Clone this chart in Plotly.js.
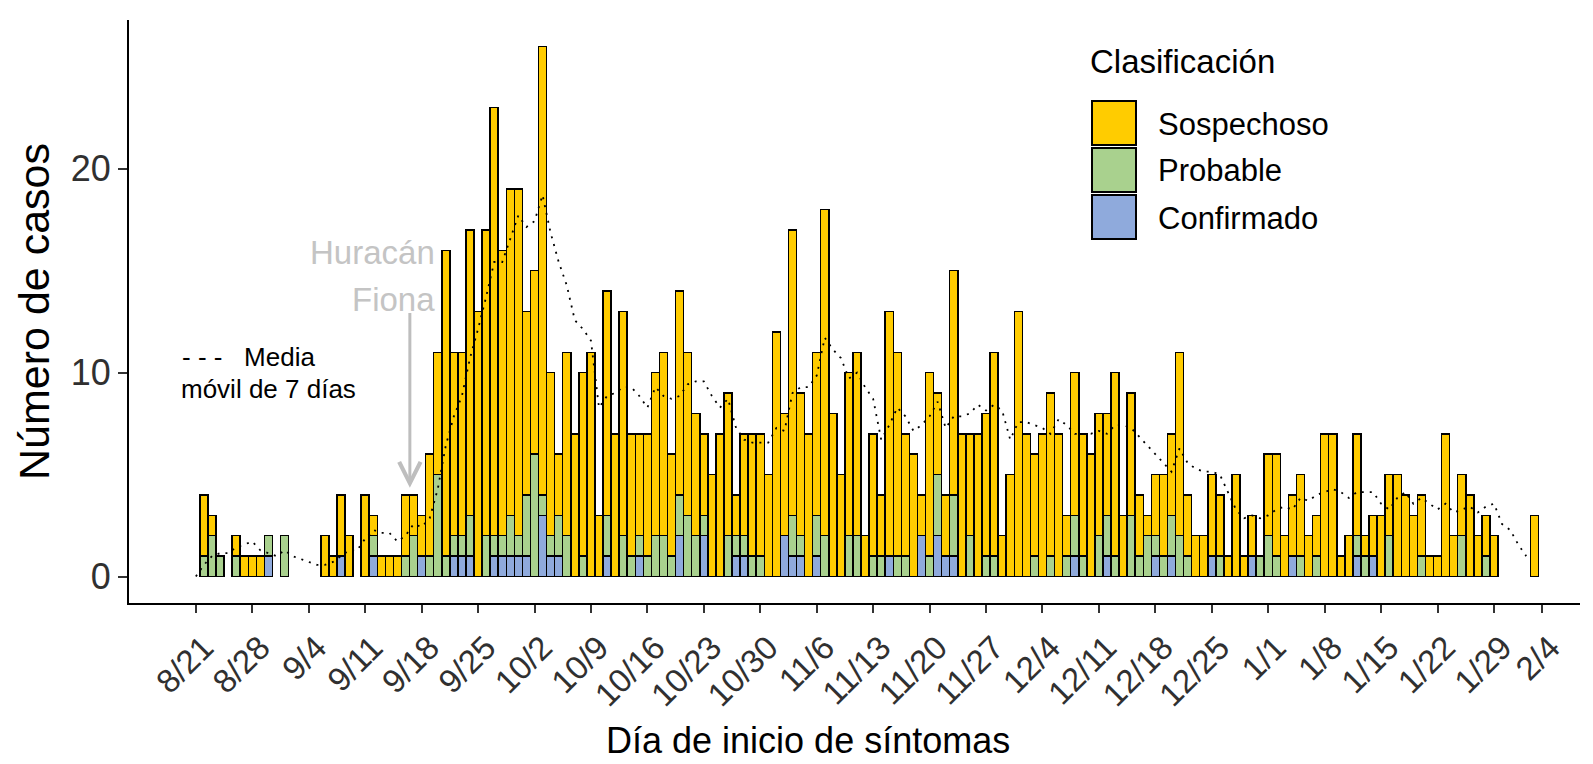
<!DOCTYPE html>
<html><head><meta charset="utf-8">
<script src="https://cdn.plot.ly/plotly-3.0.1.min.js"></script>
<style>html,body{margin:0;padding:0;background:#fff}#chart{width:1593px;height:764px}</style>
</head><body><div id="chart"></div>
<script>
// Daily counts starting 2022-08-21 (index 0) through 2023-02-03 (index 166)
const fechaInicio = [2022, 7, 21];
const sospechoso = [
 0,3,1,0,0,1,1,1,1,0, 0,0,0,0,0,0,2,1,3,2, 0,4,1,1,1,1,3,2,2,5,
 6,15,9,9,14,13,15,21,14,16, 17,9,9,22,8,3,9,7,9,11, 3,11,7,11,6,5,6,8,9,5,
 10,8,6,4,5,7,7,2,5,6, 6,5,12,6,14,7,7,8,16,8, 5,8,9,2,6,3,12,10,6,6,
 2,9,4,3,11,7,5,7,7,10, 2,5,13,7,5,7,8,7,2,7, 6,6,6,5,9,3,6,3,1,3,
 4,4,9,3,2,2,4,3,1,5, 1,2,0,4,5,2,3,4,2,2, 7,7,1,2,5,1,2,3,3,5,
 4,3,3,1,1,7,2,3,4,2, 2,2,0,0,0,0,3];
const probable = [
 0,1,2,1,0,1,0,0,0,1, 0,2,0,0,0,0,0,0,0,0, 0,0,1,0,0,0,1,2,0,1,
 5,1,1,1,2,0,2,1,1,2, 1,3,6,1,1,2,2,0,1,0, 0,2,0,2,1,1,1,2,2,1,
 2,3,2,1,0,0,2,1,1,1, 1,0,0,0,2,1,0,2,2,0, 0,2,2,0,1,1,0,1,1,0,
 0,1,3,0,3,0,2,0,1,1, 0,0,0,0,1,0,1,0,1,2, 1,0,2,2,1,0,3,1,2,1,
 1,2,2,1,0,0,0,1,0,0, 0,0,1,2,1,0,0,1,0,1, 0,0,0,0,1,1,0,0,2,0,
 0,0,1,0,0,0,0,2,0,0, 1,0,0,0,0,0,0];
const confirmado = [
 0,0,0,0,0,0,0,0,0,1, 0,0,0,0,0,0,0,0,1,0, 0,0,1,0,0,0,0,0,1,0,
 0,0,1,1,1,0,0,1,1,1, 1,1,0,3,1,1,0,0,0,0, 0,1,0,0,0,1,0,0,0,0,
 2,0,0,2,0,0,0,1,1,0, 0,0,0,2,1,1,0,1,0,0, 0,0,0,0,0,0,1,0,0,0,
 2,0,2,1,1,0,0,0,0,0, 0,0,0,0,0,0,0,0,0,1, 0,0,0,1,0,0,0,0,0,1,
 0,1,0,0,0,0,1,0,0,0, 0,1,0,0,0,0,1,0,0,0, 0,0,0,0,1,0,1,0,0,0,
 0,0,0,0,0,0,0,0,0,0, 0,0,0,0,0,0,0];
const tickFechas = ['2022-08-21','2022-08-28','2022-09-04','2022-09-11','2022-09-18','2022-09-25',
 '2022-10-02','2022-10-09','2022-10-16','2022-10-23','2022-10-30','2022-11-06','2022-11-13',
 '2022-11-20','2022-11-27','2022-12-04','2022-12-11','2022-12-18','2022-12-25','2023-01-01',
 '2023-01-08','2023-01-15','2023-01-22','2023-01-29','2023-02-04'];
const tickEtiquetas = ['8/21','8/28','9/4','9/11','9/18','9/25','10/2','10/9','10/16','10/23',
 '10/30','11/6','11/13','11/20','11/27','12/4','12/11','12/18','12/25','1/1','1/8','1/15',
 '1/22','1/29','2/4'];
const categorias = ['Sospechoso','Probable','Confirmado'];
const colores = ['#FFCC00','#A9D18E','#8FAADC'];
const mediaVentana = 7;
const mediaUltimoDia = 165;

const fechas = sospechoso.map((_, i) =>
  new Date(Date.UTC(fechaInicio[0], fechaInicio[1], fechaInicio[2] + i)).toISOString().slice(0, 10));
const nz = a => a.map(v => v === 0 ? null : v);
const total = sospechoso.map((v, i) => v + probable[i] + confirmado[i]);
const mediaX = [], mediaY = [];
for (let i = 0; i <= mediaUltimoDia; i++) {
  let s = 0;
  for (let k = i - mediaVentana + 1; k <= i; k++) if (k >= 0) s += total[k];
  mediaX.push(fechas[i]); mediaY.push(s / mediaVentana);
}

const FONT = 'Liberation Sans, Arial, sans-serif';
const L = 129, R = 1580, T = 20, B = 603;
const px = x => (x - L) / (R - L);
const py = y => (B - y) / (B - T);

const barLine = {color: '#000', width: 1.5};
const traces = [
  {type: 'bar', name: 'Confirmado', x: fechas, y: nz(confirmado), marker: {color: colores[2], line: barLine}, showlegend: false, hoverinfo: 'skip'},
  {type: 'bar', name: 'Probable', x: fechas, y: nz(probable), marker: {color: colores[1], line: barLine}, showlegend: false, hoverinfo: 'skip'},
  {type: 'bar', name: 'Sospechoso', x: fechas, y: nz(sospechoso), marker: {color: colores[0], line: barLine}, showlegend: false, hoverinfo: 'skip'},
  {type: 'scatter', mode: 'lines', name: 'Media móvil', x: mediaX, y: mediaY,
   line: {color: '#000', width: 1.8, dash: '2px,6px'}, showlegend: false, hoverinfo: 'skip'}
];

const shapes = [], annotations = [];
// custom legend
const legTops = [101, 148, 195];
categorias.forEach((c, i) => {
  shapes.push({type: 'rect', xref: 'paper', yref: 'paper', x0: px(1092), x1: px(1136),
    y0: py(legTops[i]), y1: py(legTops[i] + 44), fillcolor: colores[i], line: {color: '#000', width: 2}});
  annotations.push({xref: 'paper', yref: 'paper', x: px(1156), y: py(legTops[i] + 23), xanchor: 'left', yanchor: 'middle',
    text: c, showarrow: false, font: {family: FONT, size: 31, color: '#000'}});
});
annotations.push({xref: 'paper', yref: 'paper', x: px(1088), y: py(61), xanchor: 'left', yanchor: 'middle',
  text: 'Clasificación', showarrow: false, font: {family: FONT, size: 33, color: '#000'}});
// moving average note
annotations.push({xref: 'paper', yref: 'paper', x: px(180), y: py(357), xanchor: 'left', yanchor: 'middle',
  text: '- - -   Media', showarrow: false, font: {family: FONT, size: 26, color: '#000'}});
annotations.push({xref: 'paper', yref: 'paper', x: px(179), y: py(389), xanchor: 'left', yanchor: 'middle',
  text: 'móvil de 7 días', showarrow: false, font: {family: FONT, size: 26, color: '#000'}});
// hurricane label
annotations.push({xref: 'paper', yref: 'paper', x: px(437), y: py(252), xanchor: 'right', yanchor: 'middle',
  text: 'Huracán', showarrow: false, font: {family: FONT, size: 33, color: '#C4C4C4'}});
annotations.push({xref: 'paper', yref: 'paper', x: px(437), y: py(299), xanchor: 'right', yanchor: 'middle',
  text: 'Fiona', showarrow: false, font: {family: FONT, size: 33, color: '#C4C4C4'}});
annotations.push({x: '2022-09-16 13:00', y: 4.35, xref: 'x', yref: 'y', axref: 'pixel', ayref: 'y', ax: 0, ay: 13.0,
  text: '', showarrow: true, arrowhead: 5, arrowsize: 1.4, arrowwidth: 3, arrowcolor: '#BEBEBE'});
// x-axis title (centred on the figure as in the reference)
annotations.push({xref: 'paper', yref: 'paper', x: px(808), y: py(740), xanchor: 'center', yanchor: 'middle',
  text: 'Día de inicio de síntomas', showarrow: false, font: {family: FONT, size: 36, color: '#000'}});

const layout = {
  width: 1593, height: 764,
  margin: {l: L, r: 1593 - R, t: T, b: 764 - B},
  paper_bgcolor: '#fff', plot_bgcolor: '#fff',
  barmode: 'stack', bargap: 0,
  font: {family: FONT, color: '#000'},
  xaxis: {type: 'date', range: ['2022-08-12 17:00', '2023-02-08 16:00'],
    tickmode: 'array', tickvals: tickFechas, ticktext: tickEtiquetas, tickangle: -45,
    ticks: 'outside', ticklen: 8, tickwidth: 2, tickcolor: '#333',
    ticklabelshift: 8, ticklabelstandoff: 2,
    showline: true, linecolor: '#000', linewidth: 2, showgrid: false, zeroline: false,
    tickfont: {family: FONT, size: 33, color: '#303030'}},
  yaxis: {range: [-1.3, 27.3], tickmode: 'array', tickvals: [0, 10, 20],
    ticks: 'outside', ticklen: 9, tickwidth: 2, tickcolor: '#333',
    showline: true, linecolor: '#000', linewidth: 2, showgrid: false, zeroline: false,
    tickfont: {family: FONT, size: 36, color: '#303030'},
    title: {text: 'Número de casos', font: {family: FONT, size: 43, color: '#000'}, standoff: 8}},
  shapes: shapes, annotations: annotations, showlegend: false
};
Plotly.newPlot('chart', traces, layout, {displayModeBar: false, staticPlot: true});
</script></body></html>
